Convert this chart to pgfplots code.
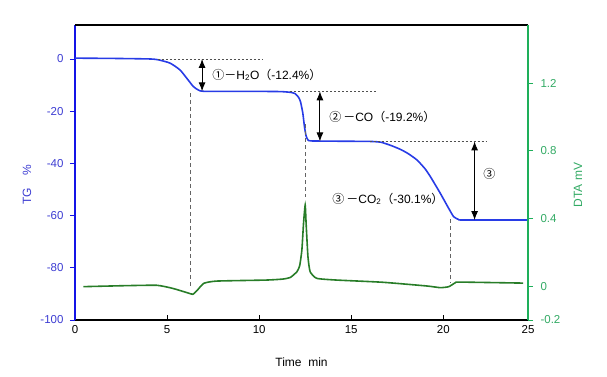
\documentclass[border=0pt]{standalone}
\usepackage{pgfplots}
\pgfplotsset{compat=1.18}
\usetikzlibrary{arrows.meta}
\usepackage{fontspec}
\setmainfont{Liberation Sans}
\newfontfamily\cjk{Noto Sans CJK SC}
\definecolor{tgblue}{RGB}{40,60,230}
\definecolor{axisblue}{RGB}{20,20,230}
\definecolor{tickblue}{RGB}{60,60,210}
\definecolor{dtagreen}{RGB}{40,125,40}
\definecolor{axisgreen}{RGB}{30,175,90}
\definecolor{tickgreen}{RGB}{50,170,100}
\definecolor{dashgray}{RGB}{80,80,80}
\definecolor{vgray}{RGB}{100,100,100}
\begin{document}
\begin{tikzpicture}
\useasboundingbox (-75pt,-57pt) rectangle (532pt,320pt);
\begin{axis}[
  at={(0,0)}, anchor=south west,
  scale only axis, width=453pt, height=295pt,
  xmin=0, xmax=24.6, ymin=-100, ymax=13,
  axis x line*=bottom, axis y line*=left,
  xtick={0,5,10,15,20,24.6}, xticklabels={0,5,10,15,20,25},
  ytick={-100,-80,-60,-40,-20,0},
  tick align=inside, major tick length=5pt,
  x axis line style={black, line width=1.5pt, -},
  y axis line style={axisblue, line width=1.5pt, -},
  x tick style={black, line width=0.8pt},
  y tick style={axisblue, line width=0.8pt, xshift=-5pt},
  /pgf/number format/assume math mode=true,
  tick label style={font=\fontsize{11.5}{13}\selectfont},
  xticklabel style={black, yshift=-2pt},
  yticklabel style={tickblue, xshift=-8pt},
  ylabel={TG\quad\%},
  ylabel style={tickblue, font=\fontsize{12}{14}\selectfont, at={([xshift=-48pt]axis description cs:0,0.458)}, anchor=center},
  xlabel={Time\ \ min},
  xlabel style={black, font=\fontsize{12}{14}\selectfont, at={([yshift=-42pt]axis description cs:0.5,0)}, anchor=center},
  clip=false,
]
\addplot[tgblue, line width=1.6pt, smooth, tension=0.35] coordinates {
(0,0.3) (2,0.2) (4,0) (4.5,-0.3) (5.16,-1.6) (5.7,-4.2) (6.07,-7.4) (6.43,-10.6) (6.7,-11.9) (7,-12.4) (9,-12.4) (11.1,-12.5) (11.7,-12.8) (11.96,-13.3) (12.15,-14.8) (12.25,-16.5) (12.37,-20.7) (12.46,-25.9) (12.55,-29.5) (12.65,-31.0) (12.8,-31.4) (14,-31.5) (16,-31.6) (16.6,-31.9) (17.1,-33.0) (17.66,-34.6) (18.1,-36.3) (18.57,-38.7) (19.0,-42.0) (19.3,-45.1) (19.84,-51.5) (20.29,-57.2) (20.56,-60.4) (20.83,-61.5) (21.1,-61.7) (24.6,-61.7)
};
% top frame line
\draw[black, line width=1.5pt] (rel axis cs:0,1) -- (rel axis cs:1,1);
% horizontal dotted guides
\draw[dashgray, line width=0.7pt, dash pattern=on 2pt off 2pt] (axis cs:4.5,0) -- (axis cs:10.2,0);
\draw[dashgray, line width=0.7pt, dash pattern=on 2pt off 2pt] (axis cs:11.7,-12.4) -- (axis cs:16.4,-12.4);
\draw[dashgray, line width=0.7pt, dash pattern=on 2pt off 2pt] (axis cs:16.0,-31.6) -- (axis cs:22.4,-31.6);
% vertical dashed guides
\draw[vgray, line width=1pt, dash pattern=on 4pt off 3pt] (axis cs:6.25,-13) -- (axis cs:6.25,-87.4);
\draw[vgray, line width=1pt, dash pattern=on 4pt off 3pt] (axis cs:12.5,-25) -- (axis cs:12.5,-53);
\draw[vgray, line width=1pt, dash pattern=on 4pt off 3pt] (axis cs:20.4,-61.5) -- (axis cs:20.4,-86);
% arrows
\draw[black, line width=0.9pt, {Latex[length=9pt,width=7pt]}-{Latex[length=9pt,width=7pt]}] (axis cs:6.9,0) -- (axis cs:6.9,-12.4);
\draw[black, line width=0.9pt, {Latex[length=9pt,width=7pt]}-{Latex[length=9pt,width=7pt]}] (axis cs:13.3,-12.4) -- (axis cs:13.3,-31.6);
\draw[black, line width=0.9pt, {Latex[length=9pt,width=7pt]}-{Latex[length=9pt,width=7pt]}] (axis cs:21.7,-31.6) -- (axis cs:21.7,-61.7);
% labels
\node[anchor=west, inner sep=0pt, font=\fontsize{12}{14}\selectfont] at (axis cs:7.45,-6.1) {{\cjk ①}{\cjk －}H\textsubscript{2}O{\cjk （}-12.4\%{\cjk ）}};
\node[anchor=west, inner sep=0pt, font=\fontsize{12}{14}\selectfont] at (axis cs:13.8,-22.2) {{\cjk ②}\,{\cjk －}CO{\cjk （}-19.2\%{\cjk ）}};
\node[anchor=center, inner sep=0pt, font=\fontsize{12}{14}\selectfont] at (axis cs:22.5,-44) {{\cjk ③}};
\node[anchor=west, inner sep=0pt, font=\fontsize{12}{14}\selectfont] at (axis cs:13.97,-53.6) {{\cjk ③}\,{\cjk －}CO\textsubscript{2}{\cjk （}-30.1\%{\cjk ）}};
\end{axis}
\begin{axis}[
  at={(0,0)}, anchor=south west,
  scale only axis, width=453pt, height=295pt,
  xmin=0, xmax=24.6, ymin=-0.2, ymax=1.543,
  axis y line*=right, axis x line=none,
  ytick={-0.2,0,0.4,0.8,1.2},
  tick align=outside, major tick length=5pt,
  y axis line style={axisgreen, line width=1.5pt, -},
  y tick style={axisgreen, line width=0.8pt},
  /pgf/number format/assume math mode=true,
  yticklabel style={tickgreen, font=\fontsize{11.5}{13}\selectfont, xshift=4pt, /pgf/number format/fixed, /pgf/number format/precision=1},
  ylabel={DTA mV},
  ylabel style={tickgreen, font=\fontsize{12}{14}\selectfont, at={([xshift=50pt]axis description cs:1,0.458)}, anchor=center},
]
\addplot[dtagreen, line width=1.6pt, smooth, tension=0.3] coordinates {
(0.45,-0.003) (2.8,0.003) (4.45,0.005) (5.3,-0.013) (6.1,-0.039) (6.4,-0.048) (6.65,-0.023) (7.0,0.017) (7.7,0.030) (10.4,0.036) (11.3,0.042) (11.7,0.052) (12.05,0.085) (12.2,0.12) (12.32,0.213) (12.41,0.371) (12.5,0.479) (12.55,0.371) (12.65,0.174) (12.77,0.085) (13.13,0.046) (14.2,0.036) (16.7,0.023) (19.1,0.001) (19.84,-0.009) (20.3,-0.003) (20.65,0.020) (20.9,0.024) (24.33,0.018)
};
\end{axis}
\end{tikzpicture}
\end{document}
